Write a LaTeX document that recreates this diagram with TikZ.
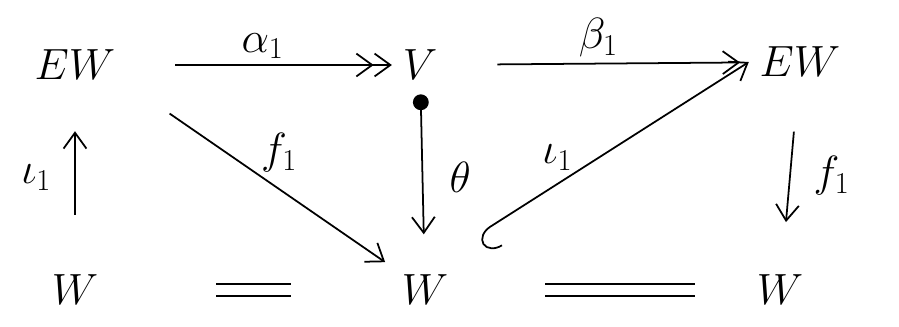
\documentclass[tikz,border=0pt]{standalone}
\usepackage{amsmath,amssymb}
\usetikzlibrary{arrows.meta}

\begin{document}
\begin{tikzpicture}[x=0.02cm,y=-0.02cm,
    obj/.style={inner xsep=6pt,inner ysep=16pt,font=\fontsize{44}{50}\selectfont},
    lab/.style={font=\fontsize{26}{30}\selectfont,inner sep=3pt},
    hd/.tip={Straight Barb[length=9pt,width=13pt,line width=1pt]},
    map/.style={line width=1pt,-{hd[]}}]
            \useasboundingbox (0,0) rectangle (899,326);
            \node[obj] (EWa) at (75,65)  {$EW$};
            \node[obj] (V)   at (420,65) {$V$};
            \node[obj] (EWb) at (800,62) {$EW$};
            \node[obj] (Wa)  at (75,290) {$W$};
            \node[obj] (Wb)  at (425,290) {$W$};
            \node[obj] (Wc)  at (780,290) {$W$};
            \draw[map,-{hd[]hd[]},shorten <=28pt] (EWa) -- node[lab,above,xshift=2pt] {$\alpha_1$} (V);
            \draw[map,shorten <=28pt,shorten >=5pt] (V) -- node[lab,above] {$\beta_1$} (EWb);
            \draw[map,shorten <=18pt,shorten >=13pt] (Wa) -- node[lab,left=10pt] {$\iota_1$} (EWa);
            \draw[map,shorten <=30pt,shorten >=4pt] (EWa.-20) -- node[lab,above right=-2pt] {$f_1$} (Wb.145);
            \draw[map,{Circle[length=9pt]}-{hd[]},shorten <=-8pt,shorten >=7pt] (V) -- node[lab,right=12pt] {$\theta$} (Wb);
            \draw[map,{Hooks[left,length=9pt,width=26pt,line width=1pt]}-{hd[]},shorten <=12pt] (Wb.north east) -- node[lab,above left=-2pt,pos=0.4] {$\iota_1$} (EWb.west);
            \draw[map,shorten <=15pt,shorten >=14pt] (EWb) -- node[lab,right=10pt] {$f_1$} (Wc);
            \draw[line width=1pt,double,double distance=6pt,shorten <=61pt,shorten >=57pt] (Wa) -- (Wb);
            \draw[line width=1pt,double,double distance=6pt,shorten <=49pt,shorten >=29pt] (Wb) -- (Wc);
        \end{tikzpicture}
\end{document}
